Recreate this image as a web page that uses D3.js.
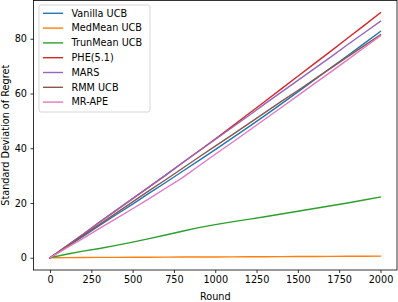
<!DOCTYPE html>
<html><head><meta charset="utf-8">
<script src="https://cdn.jsdelivr.net/npm/d3@7"></script>
<style>body{margin:0;background:#fff}svg{display:block}text{font-family:"DejaVu Sans",sans-serif}</style>
</head><body><svg id="c" width="398" height="302"></svg>
<script>
const rounds = [0,100,200,300,400,500,600,700,800,900,1000,1100,1200,1300,1400,1500,1600,1700,1800,1900,2000];
const seriesNames = ["Vanilla UCB","MedMean UCB","TrunMean UCB","PHE(5.1)","MARS","RMM UCB","MR-APE"];
const colors = ["#1f77b4","#ff7f0e","#2ca02c","#d62728","#9467bd","#8c564b","#e377c2"];
const vanillaUCB = [0,3.9,7.8,11.8,15.7,19.6,23.6,27.5,31.5,35.5,39.5,43.6,47.7,51.9,56.2,60.6,65.0,69.4,73.8,78.2,82.7];
const medMeanUCB = [0,0.05,0.1,0.12,0.15,0.18,0.2,0.22,0.25,0.27,0.3,0.32,0.35,0.38,0.4,0.43,0.46,0.5,0.53,0.56,0.6];
const trunMeanUCB = [0,1.3,2.4,3.4,4.5,5.7,7.0,8.3,9.7,11.0,12.1,13.1,14.0,15.0,16.0,17.0,18.0,19.0,20.0,21.1,22.2];
const phe = [0,4.3,8.6,13.0,17.3,21.6,25.9,30.2,34.6,39.0,43.4,47.9,52.5,57.1,61.7,66.3,70.9,75.5,80.2,84.8,89.5];
const mars = [0,4.3,8.6,13.0,17.3,21.6,25.9,30.2,34.6,38.9,43.2,47.5,51.8,56.2,60.5,64.8,69.1,73.4,77.8,82.1,86.4];
const rmmUCB = [0,4.1,8.2,12.2,16.3,20.4,24.5,28.5,32.6,36.7,40.8,44.8,48.9,53.0,57.1,61.1,65.2,69.3,73.4,77.4,81.5];
const mrAPE = [0,3.6,7.1,10.7,14.3,17.9,21.6,25.4,29.2,33.5,37.8,42.0,46.3,50.6,54.9,59.2,63.6,67.9,72.3,76.7,81.1];
const xTicks = [0,250,500,750,1000,1250,1500,1750,2000];
const yTicks = [0,20,40,60,80];
const allSeries = [vanillaUCB,medMeanUCB,trunMeanUCB,phe,mars,rmmUCB,mrAPE];

const FS = 9.7;
const svg = d3.select("#c");
const L=33.5, R=397, T=0.5, B=270;
const x = d3.scaleLinear().domain([-100,2100]).range([L,R]);
const ymax = d3.max(allSeries.flat()), ymin = 0, pad=(ymax-ymin)*0.05;
const y = d3.scaleLinear().domain([ymin-pad, ymax+pad]).range([B,T]);

const line = d3.line().x((d,i)=>x(rounds[i])).y(d=>y(d));
allSeries.forEach((s,k)=>{
  svg.append("path").attr("d",line(s)).attr("fill","none").attr("stroke",colors[k]).attr("stroke-width",1.4).attr("stroke-linejoin","round").attr("stroke-linecap","square");
});

const xa = svg.append("g").attr("transform",`translate(0,${B})`).call(d3.axisBottom(x).tickValues(xTicks).tickSize(3).tickPadding(3.5).tickFormat(d3.format("d")));
const ya = svg.append("g").attr("transform",`translate(${L},0)`).call(d3.axisLeft(y).tickValues(yTicks).tickSize(3).tickPadding(3.5).tickFormat(d3.format("d")));
[xa,ya].forEach(a=>{a.select(".domain").remove();a.selectAll("line").attr("stroke","#000").attr("stroke-width",0.8);a.selectAll("text").attr("font-size",FS).attr("fill","#000").attr("font-family","DejaVu Sans");});
svg.append("rect").attr("x",L).attr("y",T).attr("width",R-L).attr("height",B-T).attr("fill","none").attr("stroke","#000").attr("stroke-width",0.8);

svg.append("text").attr("x",(L+R)/2).attr("y",299.5).attr("text-anchor","middle").attr("font-size",FS).text("Round");
svg.append("text").attr("transform",`translate(9,${(T+B)/2}) rotate(-90)`).attr("text-anchor","middle").attr("font-size",FS).text("Standard Deviation of Regret");

const lg = svg.append("g");
lg.append("rect").attr("x",39).attr("y",5).attr("width",111).attr("height",107).attr("rx",2).attr("fill","#fff").attr("fill-opacity",0.8).attr("stroke","#ccc").attr("stroke-width",0.8);
seriesNames.forEach((n,k)=>{
  const yy = 13.3 + k*14.8;
  lg.append("line").attr("x1",43).attr("x2",63).attr("y1",yy).attr("y2",yy).attr("stroke",colors[k]).attr("stroke-width",1.4);
  lg.append("text").attr("x",71.5).attr("y",yy).attr("dy","0.35em").attr("font-size",FS).text(n);
});
</script></body></html>
